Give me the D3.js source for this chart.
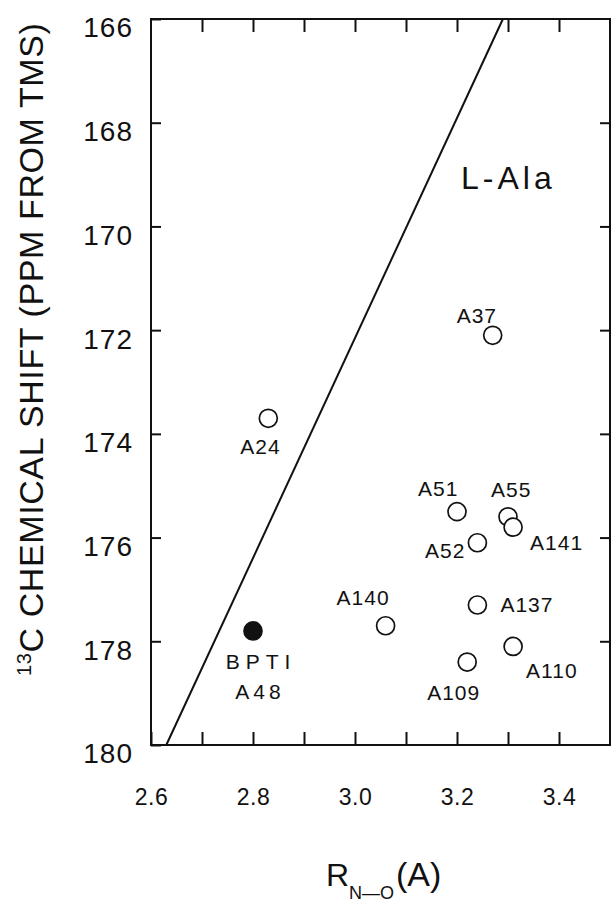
<!DOCTYPE html>
<html>
<head>
<meta charset="utf-8">
<script src="https://cdn.jsdelivr.net/npm/d3@7"></script>
<style>
  html, body { margin: 0; padding: 0; background: #fff; }
  svg { display: block; }
  text { font-family: "Liberation Sans", Arial, sans-serif; fill: #111; }
</style>
</head>
<body>
<svg id="chart" width="611" height="903"></svg>
<script>
// Alanine carbonyl 13C shifts against N–O hydrogen-bond distance
const residues = ["A37", "A24", "A48", "A140", "A51", "A55", "A141", "A52", "A137", "A110", "A109"];
const distance = [3.27, 2.83, 2.80, 3.06, 3.20, 3.30, 3.31, 3.24, 3.24, 3.31, 3.22];
const shift    = [172.1, 173.7, 177.8, 177.7, 175.5, 175.6, 175.8, 176.1, 177.3, 178.1, 178.4];
const bptiResidue = "A48";

// straight reference line across the frame
const lineDistance = [2.63, 3.29];
const lineShift    = [180, 166];

const xDomain = [2.6, 3.5];
const yDomain = [166, 180];
const xTickValues = [2.6, 2.7, 2.8, 2.9, 3.0, 3.1, 3.2, 3.3, 3.4];
const xTickLabels = ["2.6", "2.8", "3.0", "3.2", "3.4"];
const yTickValues = [166, 168, 170, 172, 174, 176, 178, 180];
const yTickLabels = ["166", "168", "170", "172", "174", "176", "178", "180"];

// label placement around each marker: [dx, dy, anchor]
const labelPlacement = {
  A37:  [-36, -12, "start"],
  A24:  [-28, 36, "start"],
  A140: [-49, -21, "start"],
  A51:  [-39, -16, "start"],
  A55:  [-17, -20, "start"],
  A141: [17, 23, "start"],
  A52:  [-12, 15, "end"],
  A137: [23, 7, "start"],
  A110: [13, 32, "start"],
  A109: [-40, 38, "start"]
};

const svg = d3.select("#chart");
const frame = { left: 151, right: 610, top: 19, bottom: 745 };

const x = d3.scaleLinear().domain(xDomain).range([frame.left, frame.right]);
const y = d3.scaleLinear().domain(yDomain).range([frame.top, frame.bottom]);

const ink = "#111";

// bottom axis: inward ticks every 0.1, numbers every 0.2
const fmtX = d => {
  const s = d3.format(".1f")(d);
  return xTickLabels.includes(s) ? s : "";
};
const gxB = svg.append("g")
  .attr("transform", `translate(0,${frame.bottom})`)
  .call(d3.axisBottom(x).tickValues(xTickValues).tickFormat(fmtX)
    .tickSizeInner(-13).tickSizeOuter(0).tickPadding(44));
gxB.select(".domain").remove();
gxB.selectAll("line").attr("stroke", ink).attr("stroke-width", 2);
gxB.selectAll("text").attr("font-size", 23).attr("letter-spacing", 0.5).attr("fill", ink)
  .attr("font-family", "Liberation Sans, Arial, sans-serif");

// top axis: ticks only
const gxT = svg.append("g")
  .attr("transform", `translate(0,${frame.top})`)
  .call(d3.axisTop(x).tickValues(xTickValues.slice(1)).tickFormat("")
    .tickSizeInner(-13).tickSizeOuter(0));
gxT.select(".domain").remove();
gxT.selectAll("line").attr("stroke", ink).attr("stroke-width", 2);

// left axis with numbers
const gyL = svg.append("g")
  .attr("transform", `translate(${frame.left},0)`)
  .call(d3.axisLeft(y).tickValues(yTickValues).tickFormat((d, i) => yTickLabels[i])
    .tickSizeInner(-10).tickSizeOuter(0).tickPadding(18));
gyL.select(".domain").remove();
gyL.selectAll("line").attr("stroke", ink).attr("stroke-width", 2);
gyL.selectAll("text").attr("font-size", 28).attr("letter-spacing", 1).attr("dy", "0.64em")
  .attr("fill", ink).attr("font-family", "Liberation Sans, Arial, sans-serif");

// right axis: ticks only
const gyR = svg.append("g")
  .attr("transform", `translate(${frame.right},0)`)
  .call(d3.axisRight(y).tickValues(yTickValues.slice(1, -1)).tickFormat("")
    .tickSizeInner(-10).tickSizeOuter(0));
gyR.select(".domain").remove();
gyR.selectAll("line").attr("stroke", ink).attr("stroke-width", 2);

// frame
svg.append("rect")
  .attr("x", frame.left).attr("y", frame.top)
  .attr("width", frame.right - frame.left).attr("height", frame.bottom - frame.top)
  .attr("fill", "none").attr("stroke", ink).attr("stroke-width", 2);

// reference line
const linePts = lineDistance.map((d, i) => [x(d), y(lineShift[i])]);
svg.append("path")
  .attr("d", d3.line()(linePts))
  .attr("fill", "none").attr("stroke", ink).attr("stroke-width", 2);

// markers
const points = residues.map((r, i) => ({ name: r, cx: x(distance[i]), cy: y(shift[i]) }));
svg.append("g").selectAll("circle")
  .data(points)
  .join("circle")
  .attr("cx", d => d.cx).attr("cy", d => d.cy).attr("r", 9)
  .attr("fill", d => d.name === bptiResidue ? ink : "#fff")
  .attr("stroke", ink).attr("stroke-width", 1.7);

// marker labels
const lbl = svg.append("g").attr("font-size", 21).attr("letter-spacing", 1);
points.filter(d => d.name !== bptiResidue).forEach(d => {
  const [dx, dy, anchor] = labelPlacement[d.name];
  lbl.append("text")
    .attr("x", d.cx + dx).attr("y", d.cy + dy)
    .attr("text-anchor", anchor)
    .text(d.name);
});
const bp = points.find(d => d.name === bptiResidue);
lbl.append("text").attr("x", bp.cx + 8).attr("y", bp.cy + 38)
  .attr("text-anchor", "middle").attr("letter-spacing", 6).text("BPTI");
lbl.append("text").attr("x", bp.cx + 7).attr("y", bp.cy + 68)
  .attr("text-anchor", "middle").attr("letter-spacing", 4).text(bptiResidue);

// panel tag
svg.append("text")
  .attr("x", 461).attr("y", 189)
  .attr("font-size", 32).attr("letter-spacing", 4)
  .text("L-Ala");

// y title
const yt = svg.append("text")
  .attr("transform", "translate(43,676) rotate(-90)")
  .attr("font-size", 34).attr("letter-spacing", 0.6);
yt.append("tspan").attr("font-size", 20).attr("dy", -12).text("13");
yt.append("tspan").attr("dy", 12).text("C CHEMICAL SHIFT (PPM FROM TMS)");

// x title
const xt = svg.append("text").attr("font-size", 32);
xt.append("tspan").attr("x", 326).attr("y", 886).text("R");
xt.append("tspan").attr("x", 349).attr("y", 899).attr("font-size", 18).text("N\u2014O");
xt.append("tspan").attr("x", 396).attr("y", 886).attr("font-size", 34).text("(A)");
</script>
</body>
</html>
